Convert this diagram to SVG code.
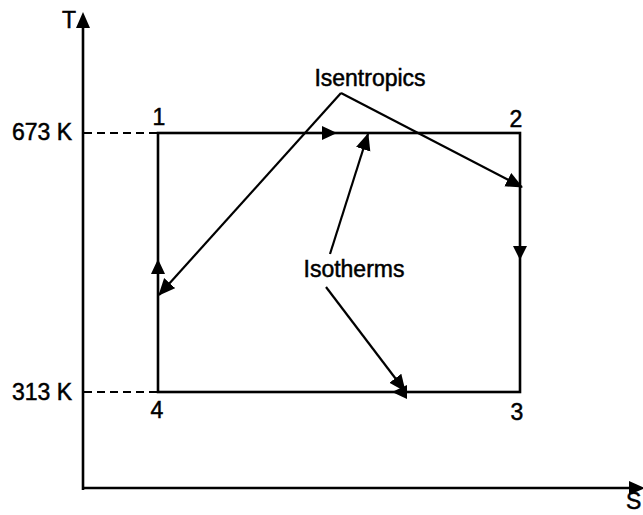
<svg xmlns="http://www.w3.org/2000/svg" width="643" height="515" viewBox="0 0 643 515">
  <style>
    .t { font-family: "Liberation Sans", Arial, sans-serif; font-size: 23px; fill: #000; stroke: #000; stroke-width: 0.5; }
    .ln { stroke: #000; stroke-width: 2.6; fill: none; }
    .thin { stroke: #000; stroke-width: 2.2; fill: none; }
    .dash { stroke: #000; stroke-width: 2; fill: none; stroke-dasharray: 8 5; }
    .head { fill: #000; stroke: none; }
  </style>
  <defs>
    <marker id="ah" markerUnits="userSpaceOnUse" markerWidth="17" markerHeight="16" refX="16" refY="7.5" orient="auto">
      <path d="M0,0 L17,7.5 L0,15 z" fill="#000"/>
    </marker>
  </defs>
  <rect width="643" height="515" fill="#fff"/>

  <g id="axes">
    <line class="ln" x1="83" y1="490" x2="83" y2="24"/>
    <polygon class="head" points="83,12 76,28 90,28"/>
    <line class="ln" x1="82" y1="488" x2="630" y2="488"/>
    <polygon class="head" points="645,488 629,481 629,495"/>
    <text class="t" x="62" y="28">T</text>
    <text class="t" x="626" y="509">S</text>
    <text class="t" x="72" y="140" text-anchor="end">673 K</text>
    <text class="t" x="72" y="400" text-anchor="end">313 K</text>
    <line class="dash" x1="84" y1="133" x2="158" y2="133"/>
    <line class="dash" x1="84" y1="392" x2="158" y2="392"/>
  </g>

  <g id="cycle">
    <rect class="ln" x="158" y="133" width="362" height="259"/>
    <polygon class="head" points="337,133 322,126 322,140"/>
    <polygon class="head" points="520,260 513,246 527,246"/>
    <polygon class="head" points="392,392 407,385 407,399"/>
    <polygon class="head" points="158,259 151,274 165,274"/>
  </g>

  <g id="state1"><text class="t" x="159" y="125" text-anchor="middle">1</text></g>
  <g id="state2"><text class="t" x="516" y="127" text-anchor="middle">2</text></g>
  <g id="state3"><text class="t" x="517" y="420" text-anchor="middle">3</text></g>
  <g id="state4"><text class="t" x="157" y="418" text-anchor="middle">4</text></g>

  <g id="isentropics">
    <text class="t" x="370" y="86" text-anchor="middle">Isentropics</text>
  </g>
  <g id="isotherms">
    <text class="t" x="354" y="277" text-anchor="middle">Isotherms</text>
  </g>

  <g id="connectors">
    <path class="thin" d="M341,93 L159,295" marker-end="url(#ah)"/>
    <path class="thin" d="M341,93 L522,187" marker-end="url(#ah)"/>
    <path class="thin" d="M330,254 L368,134" marker-end="url(#ah)"/>
    <path class="thin" d="M326,287 L405,391" marker-end="url(#ah)"/>
  </g>
</svg>
